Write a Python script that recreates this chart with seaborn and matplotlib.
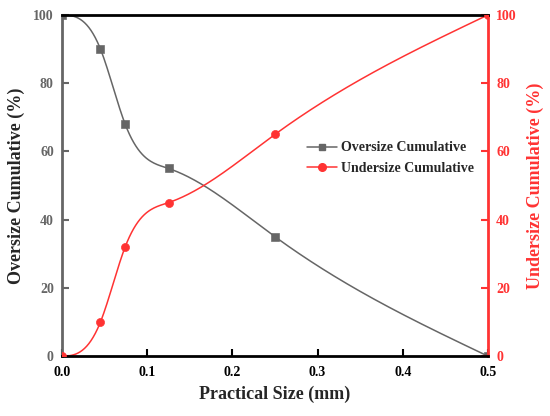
import numpy as np
import pandas as pd
import matplotlib
matplotlib.use("Agg")
import matplotlib.pyplot as plt
import seaborn as sb

# data
size_mm = [0.0, 0.045, 0.074, 0.125, 0.25, 0.5]
oversize = [100, 90, 68, 55, 35, 0]
undersize = [0, 10, 32, 45, 65, 100]

gray = "#666666"
red = "#ff3333"


def spline(x, y, xs):
    # cubic spline, flat start, natural end (smooth line like the original)
    x = np.asarray(x, float)
    y = np.asarray(y, float)
    n = len(x)
    h = np.diff(x)
    A = np.zeros((n, n))
    b = np.zeros(n)
    A[0, 0] = 2 * h[0]
    A[0, 1] = h[0]
    b[0] = 6 * ((y[1] - y[0]) / h[0] - 0.0)
    for i in range(1, n - 1):
        A[i, i - 1] = h[i - 1]
        A[i, i] = 2 * (h[i - 1] + h[i])
        A[i, i + 1] = h[i]
        b[i] = 6 * ((y[i + 1] - y[i]) / h[i] - (y[i] - y[i - 1]) / h[i - 1])
    A[-1, -1] = 1
    M = np.linalg.solve(A, b)
    idx = np.clip(np.searchsorted(x, xs) - 1, 0, n - 2)
    t0 = x[idx + 1] - xs
    t1 = xs - x[idx]
    hh = h[idx]
    return (M[idx] * t0**3 / (6 * hh) + M[idx + 1] * t1**3 / (6 * hh)
            + (y[idx] / hh - M[idx] * hh / 6) * t0 + (y[idx + 1] / hh - M[idx + 1] * hh / 6) * t1)


sb.set_style("ticks")
plt.rcParams["font.family"] = ["Liberation Serif", "DejaVu Serif"]
plt.rcParams["font.weight"] = "bold"

fig = plt.figure(figsize=(5.5, 4.16), dpi=100)
ax = fig.add_axes([0.113, 0.144, 0.774, 0.82])
ax2 = ax.twinx()

xs = np.linspace(0, 0.5, 400)
smooth = pd.DataFrame({"x": xs, "over": spline(size_mm, oversize, xs), "under": spline(size_mm, undersize, xs)})
pts = pd.DataFrame({"x": size_mm, "over": oversize, "under": undersize})

sb.lineplot(data=smooth, x="x", y="over", ax=ax, color=gray, lw=1.1)
sb.scatterplot(data=pts, x="x", y="over", ax=ax, color=gray, marker="s", s=30, edgecolor=gray, zorder=3)
sb.lineplot(data=smooth, x="x", y="under", ax=ax2, color=red, lw=1.1)
sb.scatterplot(data=pts, x="x", y="under", ax=ax2, color=red, marker="o", s=34, edgecolor=red, zorder=3)

ax.set_xlim(0, 0.5)
ax.set_ylim(0, 100)
ax2.set_ylim(0, 100)
ax.set_xticks([0, 0.1, 0.2, 0.3, 0.4, 0.5])
ax.set_xticklabels(["0.0", "0.1", "0.2", "0.3", "0.4", "0.5"])
ax.set_yticks(range(0, 101, 20))
ax2.set_yticks(range(0, 101, 20))

ax.set_xlabel("Practical Size (mm)", fontsize=13, fontweight="bold", labelpad=5)
ax.set_ylabel("Oversize Cumulative (%)", fontsize=13, fontweight="bold", labelpad=6)
ax2.set_ylabel("Undersize Cumulative (%)", fontsize=13, fontweight="bold", color=red, labelpad=7)

for s in ["top", "bottom"]:
    ax2.spines[s].set_color("black")
    ax2.spines[s].set_linewidth(2)
ax2.spines["left"].set_color(gray)
ax2.spines["left"].set_linewidth(2)
ax2.spines["right"].set_color(red)
ax2.spines["right"].set_linewidth(2)
for s in ax.spines.values():
    s.set_visible(False)

ax.tick_params(axis="x", direction="in", length=5, width=1.5, labelsize=10, colors="black", pad=7)
ax.tick_params(axis="y", direction="in", length=5, width=1.5, labelsize=10, colors=gray, pad=6)
ax2.tick_params(axis="y", direction="in", length=5, width=1.5, labelsize=10, colors=red, pad=6)
for lab in ax.get_xticklabels() + ax.get_yticklabels() + ax2.get_yticklabels():
    lab.set_fontweight("bold")

handles = [
    plt.Line2D([], [], color=gray, marker="s", ms=5, lw=1.1, label="Oversize Cumulative"),
    plt.Line2D([], [], color=red, marker="o", ms=5.5, lw=1.1, label="Undersize Cumulative"),
]
fig.legend(handles=handles, loc="upper left", bbox_to_anchor=(0.535, 0.69), frameon=False,
           prop={"family": "Liberation Serif", "weight": "bold", "size": 10},
           handlelength=2.2, handletextpad=0.3, labelspacing=0.55)

fig.savefig("out.png", dpi=100)
